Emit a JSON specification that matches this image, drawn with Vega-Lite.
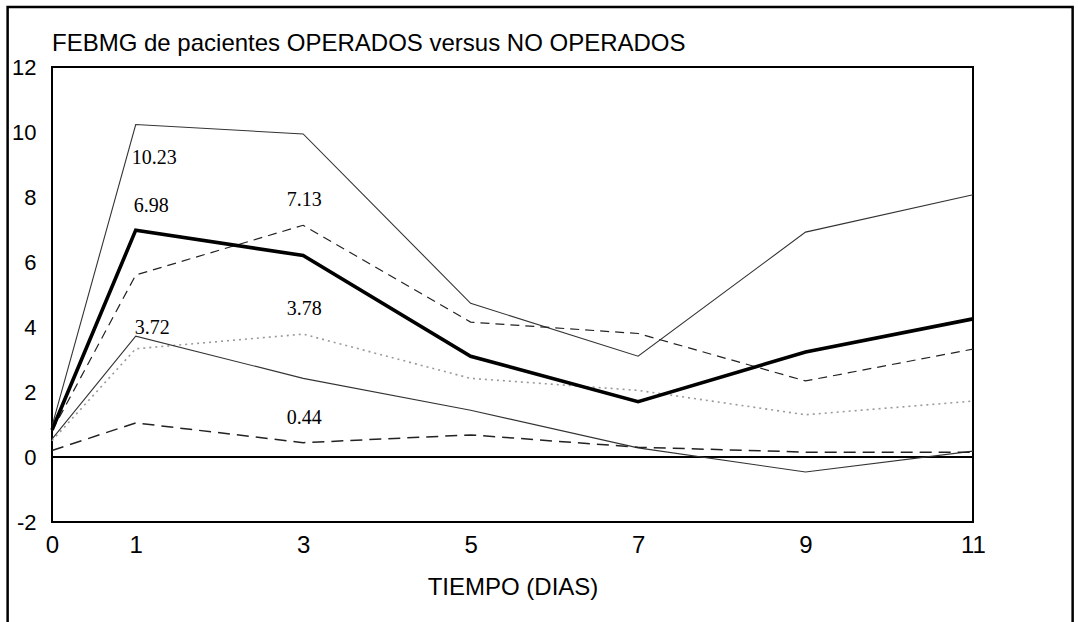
{
  "$schema": "https://vega.github.io/schema/vega-lite/v6.json",
  "width": 921,
  "height": 455,
  "autosize": {"type": "none"},
  "padding": {"left": 52, "top": 67, "right": 105, "bottom": 100},
  "background": "white",
  "config": {
    "view": {"stroke": "#000", "strokeWidth": 2},
    "font": "Liberation Sans",
    "axis": {"grid": false, "ticks": false, "domain": false, "labelColor": "#000", "titleColor": "#000", "labelFont": "Liberation Sans", "titleFont": "Liberation Sans", "titleFontWeight": "normal"}
  },
  "title": {
    "text": "FEBMG de pacientes OPERADOS versus NO OPERADOS",
    "anchor": "start",
    "frame": "group",
    "fontSize": 24,
    "fontWeight": "normal",
    "font": "Liberation Sans",
    "color": "#000",
    "offset": -50
  },
  "datasets": {
    "series": [
      {"dia": 0, "valor": 0.95, "serie": "Operados +DE"},
      {"dia": 1, "valor": 10.23, "serie": "Operados +DE"},
      {"dia": 3, "valor": 9.94, "serie": "Operados +DE"},
      {"dia": 5, "valor": 4.73, "serie": "Operados +DE"},
      {"dia": 7, "valor": 3.1, "serie": "Operados +DE"},
      {"dia": 9, "valor": 6.92, "serie": "Operados +DE"},
      {"dia": 11, "valor": 8.07, "serie": "Operados +DE"},
      {"dia": 0, "valor": 0.83, "serie": "Operados"},
      {"dia": 1, "valor": 6.98, "serie": "Operados"},
      {"dia": 3, "valor": 6.2, "serie": "Operados"},
      {"dia": 5, "valor": 3.1, "serie": "Operados"},
      {"dia": 7, "valor": 1.7, "serie": "Operados"},
      {"dia": 9, "valor": 3.23, "serie": "Operados"},
      {"dia": 11, "valor": 4.25, "serie": "Operados"},
      {"dia": 0, "valor": 0.55, "serie": "Operados -DE"},
      {"dia": 1, "valor": 3.72, "serie": "Operados -DE"},
      {"dia": 3, "valor": 2.42, "serie": "Operados -DE"},
      {"dia": 5, "valor": 1.44, "serie": "Operados -DE"},
      {"dia": 7, "valor": 0.28, "serie": "Operados -DE"},
      {"dia": 9, "valor": -0.46, "serie": "Operados -DE"},
      {"dia": 11, "valor": 0.18, "serie": "Operados -DE"},
      {"dia": 0, "valor": 0.8, "serie": "No operados +DE"},
      {"dia": 1, "valor": 5.6, "serie": "No operados +DE"},
      {"dia": 3, "valor": 7.13, "serie": "No operados +DE"},
      {"dia": 5, "valor": 4.15, "serie": "No operados +DE"},
      {"dia": 7, "valor": 3.8, "serie": "No operados +DE"},
      {"dia": 9, "valor": 2.34, "serie": "No operados +DE"},
      {"dia": 11, "valor": 3.32, "serie": "No operados +DE"},
      {"dia": 0, "valor": 0.5, "serie": "No operados"},
      {"dia": 1, "valor": 3.33, "serie": "No operados"},
      {"dia": 3, "valor": 3.78, "serie": "No operados"},
      {"dia": 5, "valor": 2.42, "serie": "No operados"},
      {"dia": 7, "valor": 2.05, "serie": "No operados"},
      {"dia": 9, "valor": 1.3, "serie": "No operados"},
      {"dia": 11, "valor": 1.72, "serie": "No operados"},
      {"dia": 0, "valor": 0.2, "serie": "No operados -DE"},
      {"dia": 1, "valor": 1.05, "serie": "No operados -DE"},
      {"dia": 3, "valor": 0.44, "serie": "No operados -DE"},
      {"dia": 5, "valor": 0.68, "serie": "No operados -DE"},
      {"dia": 7, "valor": 0.3, "serie": "No operados -DE"},
      {"dia": 9, "valor": 0.15, "serie": "No operados -DE"},
      {"dia": 11, "valor": 0.15, "serie": "No operados -DE"}
    ],
    "etiquetas": [
      {"dia": 1, "valor": 10.23, "texto": "10.23", "pos": "d1b"},
      {"dia": 1, "valor": 6.98, "texto": "6.98", "pos": "d1a"},
      {"dia": 1, "valor": 3.72, "texto": "3.72", "pos": "d1n"},
      {"dia": 3, "valor": 7.13, "texto": "7.13", "pos": "d3a"},
      {"dia": 3, "valor": 3.78, "texto": "3.78", "pos": "d3a"},
      {"dia": 3, "valor": 0.44, "texto": "0.44", "pos": "d3a"}
    ]
  },
  "layer": [
    {
      "data": {"values": [{}]},
      "mark": {"type": "rule", "color": "#000", "strokeWidth": 2},
      "encoding": {
        "y": {"datum": 0, "type": "quantitative",
          "scale": {"domain": [-2, 12], "nice": false, "zero": false},
          "axis": {"values": [-2, 0, 2, 4, 6, 8, 10, 12], "title": null, "labelFontSize": 22, "labelPadding": 16, "labelExpr": "'' + datum.value"}
        }
      }
    },
    {
      "data": {"name": "series"},
      "transform": [{"filter": "datum.serie === 'No operados'"}],
      "mark": {"type": "line", "color": "#9a9a9a", "strokeWidth": 1.6, "strokeDash": [2, 4]},
      "encoding": {
        "x": {
          "field": "dia", "type": "quantitative",
          "scale": {"domain": [0, 11], "nice": false, "zero": false},
          "axis": {"values": [0, 1, 3, 5, 7, 9, 11], "title": "TIEMPO (DIAS)", "labelFontSize": 24, "labelPadding": 11, "titleFontSize": 24, "titlePadding": 18, "labelFlush": false, "format": "d"}
        },
        "y": {"field": "valor", "type": "quantitative", "title": null}
      }
    },
    {
      "data": {"name": "series"},
      "transform": [{"filter": "datum.serie === 'Operados +DE' || datum.serie === 'Operados -DE'"}],
      "mark": {"type": "line", "color": "#333333", "strokeWidth": 1.1},
      "encoding": {
        "x": {"field": "dia", "type": "quantitative", "title": "TIEMPO (DIAS)"},
        "y": {"field": "valor", "type": "quantitative", "title": null},
        "detail": {"field": "serie"}
      }
    },
    {
      "data": {"name": "series"},
      "transform": [{"filter": "datum.serie === 'No operados +DE'"}],
      "mark": {"type": "line", "color": "#222222", "strokeWidth": 1.2, "strokeDash": [9, 6]},
      "encoding": {
        "x": {"field": "dia", "type": "quantitative", "title": "TIEMPO (DIAS)"},
        "y": {"field": "valor", "type": "quantitative", "title": null}
      }
    },
    {
      "data": {"name": "series"},
      "transform": [{"filter": "datum.serie === 'No operados -DE'"}],
      "mark": {"type": "line", "color": "#222222", "strokeWidth": 1.5, "strokeDash": [12, 7]},
      "encoding": {
        "x": {"field": "dia", "type": "quantitative", "title": "TIEMPO (DIAS)"},
        "y": {"field": "valor", "type": "quantitative", "title": null}
      }
    },
    {
      "data": {"name": "series"},
      "transform": [{"filter": "datum.serie === 'Operados'"}],
      "mark": {"type": "line", "color": "#000000", "strokeWidth": 3.6},
      "encoding": {
        "x": {"field": "dia", "type": "quantitative", "title": "TIEMPO (DIAS)"},
        "y": {"field": "valor", "type": "quantitative", "title": null}
      }
    },
    {
      "data": {"name": "etiquetas"},
      "transform": [{"filter": "datum.pos === 'd1a'"}],
      "mark": {"type": "text", "font": "Liberation Serif", "fontSize": 20, "color": "#000", "align": "left", "baseline": "middle", "dx": -2, "dy": -24},
      "encoding": {
        "x": {"field": "dia", "type": "quantitative", "title": "TIEMPO (DIAS)"},
        "y": {"field": "valor", "type": "quantitative", "title": null},
        "text": {"field": "texto"}
      }
    },
    {
      "data": {"name": "etiquetas"},
      "transform": [{"filter": "datum.pos === 'd1b'"}],
      "mark": {"type": "text", "font": "Liberation Serif", "fontSize": 20, "color": "#000", "align": "left", "baseline": "middle", "dx": -4, "dy": 33},
      "encoding": {
        "x": {"field": "dia", "type": "quantitative", "title": "TIEMPO (DIAS)"},
        "y": {"field": "valor", "type": "quantitative", "title": null},
        "text": {"field": "texto"}
      }
    },
    {
      "data": {"name": "etiquetas"},
      "transform": [{"filter": "datum.pos === 'd1n'"}],
      "mark": {"type": "text", "font": "Liberation Serif", "fontSize": 20, "color": "#000", "align": "left", "baseline": "middle", "dx": -1, "dy": -8},
      "encoding": {
        "x": {"field": "dia", "type": "quantitative", "title": "TIEMPO (DIAS)"},
        "y": {"field": "valor", "type": "quantitative", "title": null},
        "text": {"field": "texto"}
      }
    },
    {
      "data": {"name": "etiquetas"},
      "transform": [{"filter": "datum.pos === 'd3a'"}],
      "mark": {"type": "text", "font": "Liberation Serif", "fontSize": 20, "color": "#000", "align": "center", "baseline": "middle", "dx": 1, "dy": -25},
      "encoding": {
        "x": {"field": "dia", "type": "quantitative", "title": "TIEMPO (DIAS)"},
        "y": {"field": "valor", "type": "quantitative", "title": null},
        "text": {"field": "texto"}
      }
    },
    {
      "data": {"values": [{}]},
      "mark": {"type": "rect", "filled": false, "stroke": "#000", "strokeWidth": 2.5, "clip": false},
      "encoding": {
        "x": {"datum": -0.53, "type": "quantitative"},
        "x2": {"datum": 12.19},
        "y": {"datum": 13.85, "type": "quantitative"},
        "y2": {"datum": -5.8}
      }
    }
  ]
}
